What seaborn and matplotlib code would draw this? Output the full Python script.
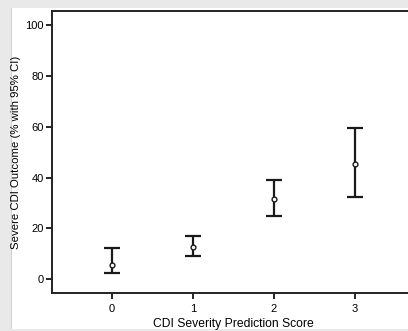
import matplotlib
matplotlib.use("Agg")
import matplotlib.pyplot as plt
import seaborn as sns
import pandas as pd
from matplotlib.patches import Rectangle

scores = [0, 1, 2, 3]
estimate = [5.5, 12.6, 31.6, 45.4]
lower = [2.4, 9.2, 24.8, 32.3]
upper = [12.3, 16.9, 39.0, 59.6]
y_ticks = [0, 20, 40, 60, 80, 100]
x_label = "CDI Severity Prediction Score"
y_label = "Severe CDI Outcome (% with 95% CI)"

df = pd.DataFrame({"score": scores, "est": estimate, "lo": lower, "hi": upper})

sns.set_theme(style="white")
plt.rcParams["font.family"] = ["Liberation Sans", "DejaVu Sans"]

fig = plt.figure(figsize=(4.08, 3.31), dpi=100)
W, H = 408, 331

# screenshot-like frame
fig.patches.append(Rectangle((0, 0), 1, 1, transform=fig.transFigure,
                             facecolor="#e9e9e9", edgecolor="none", zorder=-3))
fig.patches.append(Rectangle((12 / W, 2 / H), 1 - 12 / W, (329 - 8) / H,
                             transform=fig.transFigure,
                             facecolor="white", edgecolor="none", zorder=-2))
fig.patches.append(Rectangle((11 / W, 2 / H), 1.2 / W, (329 - 8) / H,
                             transform=fig.transFigure,
                             facecolor="#d2d2d2", edgecolor="none", zorder=-1))

ax = fig.add_axes([52 / W, 38 / H, 363 / W, 282 / H])
ax.set_facecolor("none")

lc = "#1a1a1a"
ax.errorbar(df["score"], df["est"],
            yerr=[df["est"] - df["lo"], df["hi"] - df["est"]],
            fmt="none", ecolor=lc, elinewidth=1.6, capsize=5.6, capthick=1.6,
            zorder=2)
sns.scatterplot(data=df, x="score", y="est", ax=ax, marker="o", s=12,
                facecolor="white", edgecolor=lc, linewidth=1.0, zorder=3)

ax.set_xlim(-0.74, 3.74)
ax.set_ylim(-5.4, 105.6)
ax.set_xticks(scores)
ax.set_xticklabels([str(s) for s in scores])
ax.set_yticks(y_ticks)
ax.set_xlabel(x_label, fontsize=8.7, color="#000", labelpad=3)
ax.set_ylabel(y_label, fontsize=8.2, color="#000", labelpad=3)
ax.tick_params(axis="both", labelsize=8, colors="#000", length=4, width=1.2,
               direction="out", bottom=True, left=True, pad=2)
ax.tick_params(axis="x", pad=4)
for side in ["left", "bottom", "top"]:
    ax.spines[side].set_visible(True)
    ax.spines[side].set_color("#222")
    ax.spines[side].set_linewidth(1.4)
ax.spines["right"].set_visible(False)

fig.savefig("out.png", dpi=100)
